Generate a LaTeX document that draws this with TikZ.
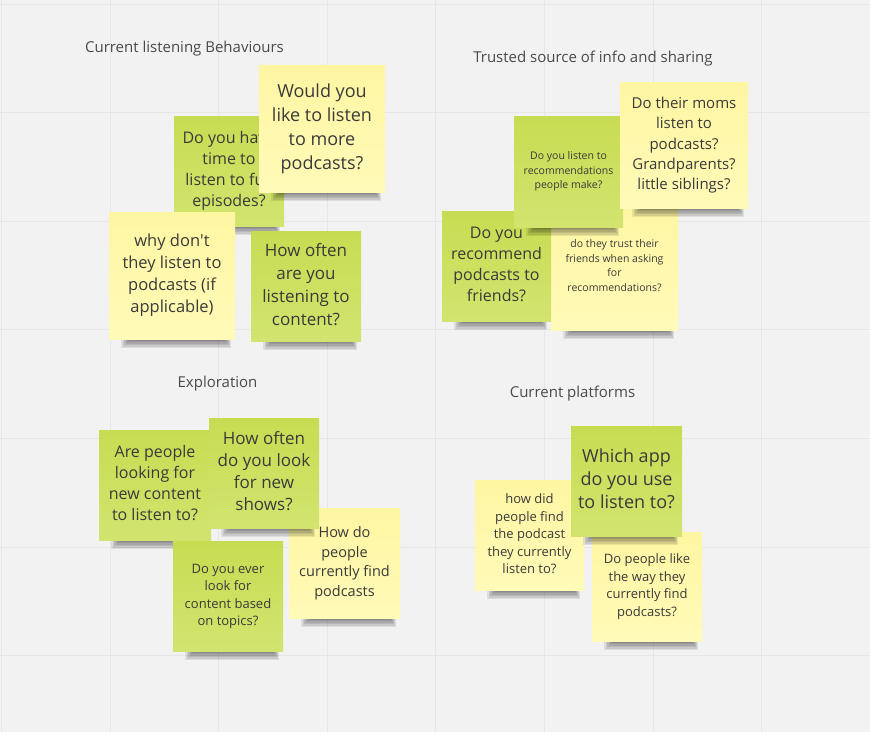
\documentclass[tikz,border=0pt]{standalone}
\usepackage{fontspec}
\setmainfont{Open Sans}
\definecolor{bg}{HTML}{F2F2F2}
\definecolor{gridc}{HTML}{E6E6E6}
\definecolor{gtop}{HTML}{C8DC52}
\definecolor{gbot}{HTML}{D2E46F}
\definecolor{ytop}{HTML}{FFF6A2}
\definecolor{ybot}{HTML}{FFFAB8}
\definecolor{txt}{HTML}{3A3A3A}
\definecolor{ttl}{HTML}{4A4A4A}
\tikzset{
  stickybox/.style={rectangle, inner sep=0pt, align=center, text=txt},
  greennote/.style={stickybox, top color=gtop, bottom color=gbot},
  yellownote/.style={stickybox, top color=ytop, bottom color=ybot},
  title/.style={inner sep=0pt, text=ttl, font=\fontsize{15}{18}\selectfont},
}
% #1 name, #2 style, #3 x1, #4 y1, #5 x2, #6 y2, #7 size, #8 skip, #9 text
\newcommand\sticky[9]{%
  \foreach \k in {0,...,5}{%
    \fill[black, opacity=0.085] ({#3+12+\k*1.5},{#6-1}) rectangle ({#5-4-\k},{#6+9-\k*1.5});
  }
  \node[#2, minimum width={#5-#3}, minimum height={#6-#4},
        font=\fontsize{#7}{#8}\selectfont] (#1) at ({(#3+#5)/2},{(#4+#6)/2}) {\raisebox{2pt}{\begin{tabular}{@{}c@{}}#9\end{tabular}}};
}
\begin{document}
\begin{tikzpicture}[x=1pt,y=-1pt]
\fill[bg] (0,0) rectangle (870,732);
\useasboundingbox (0,0) rectangle (870,732);
\foreach \i in {0,...,8}{\draw[gridc, line width=1pt] ({1.5+108.6*\i},0) -- ({1.5+108.6*\i},732);}
\foreach \j in {0,...,6}{\draw[gridc, line width=1pt] (0,{4+108.6*\j}) -- (870,{4+108.6*\j});}

% titles
\node[title] (t1) at (184.5,49) {Current listening Behaviours};
\node[title] (t2) at (593,59) {Trusted source of info and sharing};
\node[title] (t3) at (217.5,384) {Exploration};
\node[title] (t4) at (572.5,394) {Current platforms};

% Q1
\sticky{havetime}{greennote}{174}{116}{284}{226}{16}{21}{Do you have\\time to\\listen to full\\episodes?}
\sticky{morepod}{yellownote}{259}{65}{385}{192}{18}{24}{Would you\\like to listen\\to more\\podcasts?}
\sticky{whydont}{yellownote}{109}{212}{235}{339}{16.5}{22}{why don\textquotesingle t\\they listen to\\podcasts (if\\applicable)}
\sticky{howoften}{greennote}{251}{231}{361}{341}{17}{23}{How often\\are you\\listening to\\content?}

% Q2
\sticky{trust}{yellownote}{551}{203}{678}{330}{10.5}{14.6}{do they trust their\\friends when asking\\for\\recommendations?}
\sticky{recommend}{greennote}{442}{211}{551}{321}{16}{21}{Do you\\recommend\\podcasts to\\friends?}
\sticky{listenrec}{greennote}{514}{116}{623}{227}{10.5}{14.5}{Do you listen to\\recommendations\\people make?}
\sticky{moms}{yellownote}{620}{82}{748}{208}{15}{20.3}{Do their moms\\listen to\\podcasts?\\Grandparents?\\little siblings?}

% Q3
\sticky{howdo}{yellownote}{289}{508}{400}{618}{14.5}{19.5}{How do\\people\\currently find\\podcasts}
\sticky{arepeople}{greennote}{99}{430}{211}{540}{16}{21}{Are people\\looking for\\new content\\to listen to?}
\sticky{lookshows}{greennote}{209}{418}{319}{528}{17}{22.3}{How often\\do you look\\for new\\shows?}
\sticky{topics}{greennote}{173}{541}{283}{651}{13}{17.5}{Do you ever\\look for\\content based\\on topics?}

% Q4
\sticky{howdid}{yellownote}{475}{480}{584}{590}{13}{17.5}{how did\\people find\\the podcast\\they currently\\listen to?}
\sticky{doplike}{yellownote}{592}{532}{702}{641}{13}{17.5}{Do people like\\the way they\\currently find\\podcasts?}
\sticky{whichapp}{greennote}{571}{426}{682}{536}{18}{23}{Which app\\do you use\\to listen to?}
\end{tikzpicture}
\end{document}
